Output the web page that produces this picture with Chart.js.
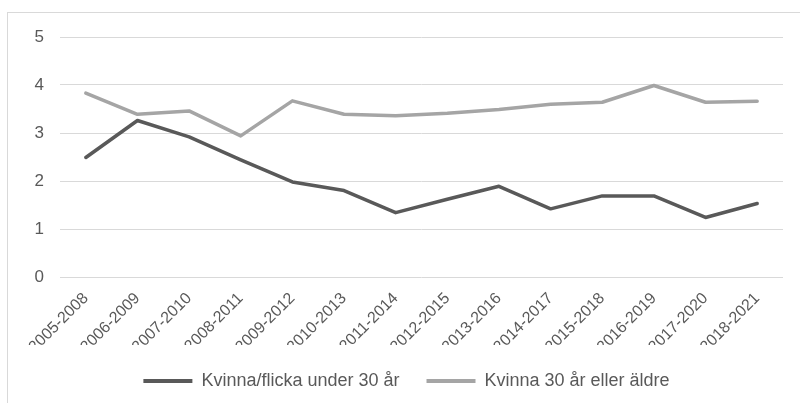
<!DOCTYPE html>
<html>
<head>
<meta charset="utf-8">
<script src="https://cdn.jsdelivr.net/npm/chart.js@4/dist/chart.umd.min.js"></script>
<style>
  html, body { margin: 0; padding: 0; background: #fff; overflow: hidden; }
  #wrap { position: relative; width: 800px; height: 403px; }
  #frame { position: absolute; left: 7px; top: 12px; width: 1000px; height: 1000px; border: 1px solid #d9d9d9; }
  #chart { position: absolute; left: 0; top: 0; }
</style>
</head>
<body>
<div id="wrap">
  <div id="frame"></div>
  <canvas id="chart" width="800" height="403"></canvas>
</div>
<script>
const periods = ['2005-2008', '2006-2009', '2007-2010', '2008-2011', '2009-2012', '2010-2013', '2011-2014',
    '2012-2015', '2013-2016', '2014-2017', '2015-2018', '2016-2019', '2017-2020', '2018-2021'];
const under30 = [2.49, 3.26, 2.92, 2.44, 1.98, 1.80, 1.34, 1.62, 1.89, 1.42, 1.69, 1.69, 1.24, 1.53];
const over30 = [3.83, 3.39, 3.46, 2.94, 3.67, 3.39, 3.36, 3.41, 3.49, 3.60, 3.64, 3.99, 3.64, 3.66];
const yTicks = [0, 1, 2, 3, 4, 5];

const darkColor = '#595959';
const lightColor = '#a5a5a5';
const textColor = '#595959';
const fontFamily = '"Liberation Sans", Arial, sans-serif';

function lineSet(label, data, color) {
    return {
        label: label,
        data: data,
        borderColor: color,
        backgroundColor: color,
        borderWidth: 3.5,
        borderCapStyle: 'round',
        borderJoinStyle: 'round',
        pointRadius: 0,
        tension: 0,
        fill: false
    };
}

new Chart(document.getElementById('chart').getContext('2d'), {
    type: 'line',
    data: {
        labels: periods,
        datasets: [
            lineSet('Kvinna/flicka under 30 år', under30, darkColor),
            lineSet('Kvinna 30 år eller äldre', over30, lightColor)
        ]
    },
    options: {
        responsive: false,
        animation: false,
        layout: { padding: { left: 30, right: 17, top: 37, bottom: 3 } },
        plugins: {
            legend: {
                position: 'bottom',
                labels: {
                    color: textColor,
                    font: { family: fontFamily, size: 18 },
                    boxWidth: 49,
                    boxHeight: 4,
                    padding: 27,
                    generateLabels: (chart) => chart.data.datasets.map((ds, i) => ({
                        text: ds.label,
                        fillStyle: ds.borderColor,
                        strokeStyle: ds.borderColor,
                        lineWidth: 0,
                        fontColor: textColor,
                        hidden: false,
                        datasetIndex: i
                    }))
                }
            },
            tooltip: { enabled: false }
        },
        scales: {
            x: {
                offset: true,
                grid: { display: false },
                border: { display: false },
                ticks: {
                    color: textColor,
                    font: { family: fontFamily, size: 16 },
                    minRotation: 45,
                    maxRotation: 45,
                    autoSkip: false,
                    padding: 4
                },
                afterFit: (scale) => { scale.height = 68; }
            },
            y: {
                min: 0,
                max: 5,
                afterBuildTicks: (scale) => { scale.ticks = yTicks.map(v => ({ value: v })); },
                grid: { color: '#d9d9d9', lineWidth: 1, drawTicks: false },
                border: { display: false },
                ticks: {
                    color: textColor,
                    font: { family: fontFamily, size: 17 },
                    padding: 16
                },
                afterFit: (scale) => { scale.width = 30; }
            }
        }
    }
});
</script>
</body>
</html>
